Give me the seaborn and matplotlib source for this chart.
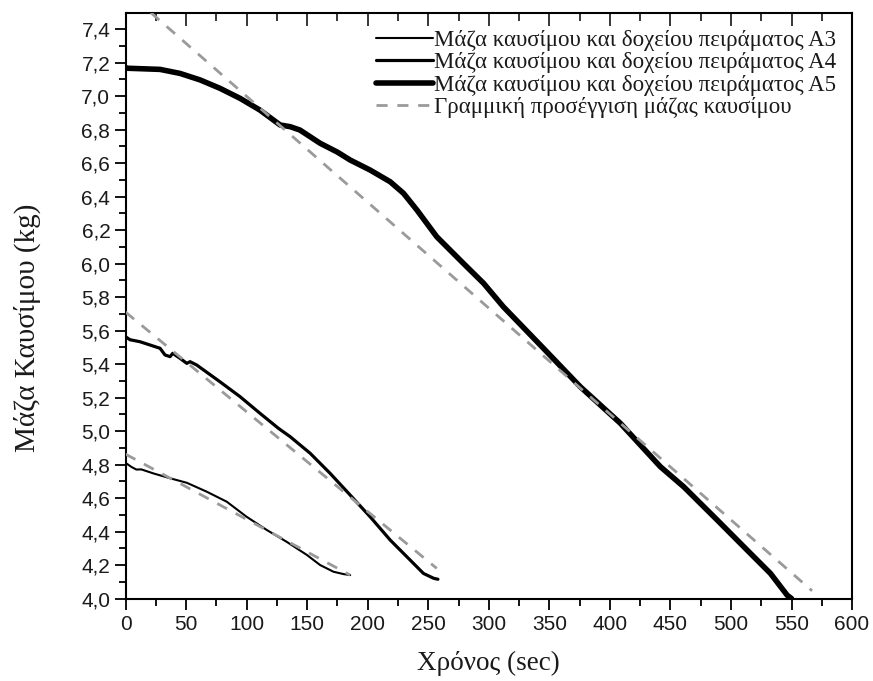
import matplotlib
matplotlib.use("Agg")
import matplotlib.pyplot as plt
import seaborn as sns
import pandas as pd
from matplotlib.ticker import MultipleLocator, FuncFormatter
from matplotlib.lines import Line2D

# ---- data ----
a3_t = [0, 1, 5, 9, 13, 23, 36.8, 50.6, 67, 83.6, 100, 116.7, 133, 149.8, 160.7, 171.7, 180, 185.5]
a3_m = [4.805, 4.805, 4.785, 4.770, 4.771, 4.747, 4.718, 4.691, 4.638, 4.578, 4.488, 4.409, 4.339, 4.26, 4.20, 4.16, 4.146, 4.14]

a4_t = [0, 3.7, 12, 23, 28.5, 32.6, 36.8, 39, 45, 50.6, 53.3, 58.8, 78, 94.6, 111, 126.3,
        136, 152.5, 169, 185.5, 202, 218.6, 235, 246, 254.4, 258]
a4_m = [5.563, 5.545, 5.533, 5.507, 5.494, 5.454, 5.444, 5.464, 5.434, 5.404, 5.414, 5.394,
        5.294, 5.205, 5.106, 5.016, 4.966, 4.867, 4.747, 4.618, 4.488, 4.349, 4.23, 4.15, 4.121, 4.115]

a5_t = [0, 1, 28.5, 45, 61.6, 78, 94.6, 111, 127.7, 136, 144, 160.7, 175, 185.5, 202, 218.6, 229.6,
        240.7, 257, 279, 295.7, 312, 342.6, 375.6, 408.7, 441.7, 461, 488.6, 516, 532.6, 546.4, 550]
a5_m = [7.17, 7.166, 7.159, 7.135, 7.096, 7.046, 6.986, 6.916, 6.827, 6.817, 6.797, 6.718, 6.665,
        6.618, 6.558, 6.488, 6.419, 6.319, 6.16, 6.001, 5.882, 5.742, 5.513, 5.264, 5.046, 4.787,
        4.667, 4.469, 4.27, 4.15, 4.02, 4.0]

fit3_t = [0, 185.5]
fit3_m = [4.862, 4.14]
fit4_t = [0, 257]
fit4_m = [5.71, 4.18]
fit5_t = [0, 567]
fit5_m = [7.63, 4.046]

labels = ["Μάζα καυσίμου και δοχείου πειράματος A3",
          "Μάζα καυσίμου και δοχείου πειράματος A4",
          "Μάζα καυσίμου και δοχείου πειράματος A5",
          "Γραμμική προσέγγιση μάζας καυσίμου"]
xlabel = "Χρόνος (sec)"
ylabel = "Μάζα Καυσίμου (kg)"

# ---- style ----
sns.set_theme(style="white")
plt.rcParams['font.family'] = ['Liberation Sans', 'DejaVu Sans']

fig = plt.figure(figsize=(8.73, 6.81), dpi=100)
ax = fig.add_axes([0.1438, 0.1211, 0.976 - 0.1438, 0.9805 - 0.1211])

dash_col = "#9a9a9a"
dash = (4, 3.5)
for ft, fm in [(fit3_t, fit3_m), (fit4_t, fit4_m), (fit5_t, fit5_m)]:
    sns.lineplot(x=ft, y=fm, ax=ax, color=dash_col, lw=2.0,
                 estimator=None, sort=False, zorder=3).lines[-1].set_dashes(dash)

sns.lineplot(x=a3_t, y=a3_m, ax=ax, color="black", lw=1.5, estimator=None, sort=False, zorder=2)
sns.lineplot(x=a4_t, y=a4_m, ax=ax, color="black", lw=2.3, estimator=None, sort=False, zorder=2)
sns.lineplot(x=a5_t, y=a5_m, ax=ax, color="black", lw=4.0, estimator=None, sort=False, zorder=2)

ax.set_xlim(0, 600)
ax.set_ylim(4.0, 7.494)
ax.xaxis.set_major_locator(MultipleLocator(50))
ax.xaxis.set_minor_locator(MultipleLocator(25))
ax.yaxis.set_major_locator(MultipleLocator(0.2))
ax.yaxis.set_minor_locator(MultipleLocator(0.1))
ax.yaxis.set_major_formatter(FuncFormatter(lambda v, p: f"{v:.1f}".replace('.', ',')))

for s in ax.spines.values():
    s.set_color("black")
    s.set_linewidth(1.5)

ax.tick_params(axis='both', which='both', color='black', width=1.3,
               labelsize=15, labelcolor='#1a1a1a')
ax.tick_params(axis='x', which='major', direction='out', length=8, bottom=True, top=False, pad=4)
ax.tick_params(axis='x', which='minor', direction='out', length=5, bottom=True, top=False)
ax.tick_params(axis='y', which='major', direction='out', length=8, left=True, right=False, pad=3)
ax.tick_params(axis='y', which='minor', direction='out', length=5, left=True, right=False)

# top inward ticks via secondary axis
top = ax.secondary_xaxis('top')
top.xaxis.set_major_locator(MultipleLocator(50))
top.xaxis.set_minor_locator(MultipleLocator(25))
top.tick_params(axis='x', which='major', direction='in', length=9, width=1.3, labeltop=False)
top.tick_params(axis='x', which='minor', direction='in', length=6, width=1.3)
top.set_xticklabels([])

ax.set_xlabel(xlabel, family=['Liberation Serif'], fontsize=19.5, labelpad=12, color='#1a1a1a')
ax.set_ylabel(ylabel, family=['Liberation Serif'], fontsize=21, color='#1a1a1a')
ax.yaxis.set_label_coords(-0.116, 0.462)

handles = [Line2D([], [], color='black', lw=1.5),
           Line2D([], [], color='black', lw=2.3),
           Line2D([], [], color='black', lw=4.0),
           Line2D([], [], color=dash_col, lw=2.0, dashes=dash)]
ax.legend(handles, labels, loc='upper right', bbox_to_anchor=(0.978, 0.971), frameon=False,
          prop={'family': 'Liberation Serif', 'size': 16.5}, handlelength=2.5,
          handletextpad=0.03, labelspacing=0.05, borderaxespad=0.0, borderpad=0.0,
          labelcolor='#1a1a1a')

fig.savefig("out.png", dpi=100)
